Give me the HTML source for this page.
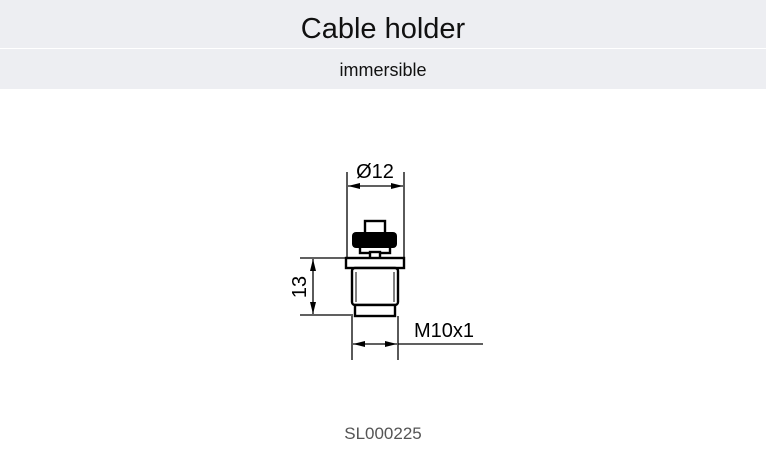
<!DOCTYPE html>
<html><head><style>
body{margin:0;width:766px;height:450px;background:#fff;font-family:"Liberation Sans",sans-serif;position:relative;overflow:hidden}
.h1{position:absolute;left:0;top:0;width:766px;height:48px;background:#edeef2;text-align:center;font-size:29px;line-height:58px;color:#111}
.h2{position:absolute;left:0;top:49px;width:766px;height:40px;background:#edeef2;text-align:center;font-size:18px;line-height:42px;color:#111}
.f{position:absolute;left:0;top:424px;width:766px;text-align:center;font-size:17px;color:#555}
svg{position:absolute;left:0;top:0}
</style></head><body>
<div class="h1">Cable holder</div>
<div class="h2">immersible</div>
<svg width="766" height="450" viewBox="0 0 766 450">
<defs><marker id="a" markerWidth="12" markerHeight="6" refX="12" refY="3" orient="auto-start-reverse" markerUnits="userSpaceOnUse"><path d="M0,0 L12,3 L0,6z" fill="#000"/></marker></defs>
<g stroke="#000" stroke-width="1.3" fill="none">
<line x1="347" y1="172" x2="347" y2="262"/><line x1="404" y1="172" x2="404" y2="262"/>
<line x1="348" y1="186" x2="403" y2="186" marker-end="url(#a)" marker-start="url(#a)"/>
<line x1="300" y1="258" x2="346" y2="258"/><line x1="300" y1="315" x2="353" y2="315"/>
<line x1="313" y1="259" x2="313" y2="314" marker-end="url(#a)" marker-start="url(#a)"/>
<line x1="352" y1="316" x2="352" y2="360"/><line x1="398" y1="316" x2="398" y2="360"/>
<line x1="353" y1="344" x2="397" y2="344" marker-end="url(#a)" marker-start="url(#a)"/>
<line x1="398" y1="344" x2="483" y2="344"/>
</g>
<g stroke="#000" stroke-width="2.4" fill="#fff">
<rect x="365" y="221" width="20" height="13"/>
<rect x="360" y="246" width="30" height="7"/>
<rect x="370" y="252" width="10" height="8"/>
<rect x="346" y="258" width="58" height="10"/>
<rect x="352" y="268" width="46" height="37" rx="3"/>
<rect x="355" y="305" width="40" height="11"/>
</g>
<rect x="352" y="232" width="45" height="16" rx="4" fill="#000"/>
<line x1="356" y1="272" x2="356" y2="302" stroke="#000" stroke-width="1"/>
<line x1="394" y1="272" x2="394" y2="302" stroke="#000" stroke-width="1"/>
<g font-family="Liberation Sans,sans-serif" font-size="20" fill="#000">
<text x="375" y="178" text-anchor="middle">Ø12</text>
<text x="444" y="337" text-anchor="middle">M10x1</text>
<text x="0" y="0" text-anchor="middle" transform="translate(306,287) rotate(-90)">13</text>
</g>
</svg>
<div class="f">SL000225</div>
</body></html>
